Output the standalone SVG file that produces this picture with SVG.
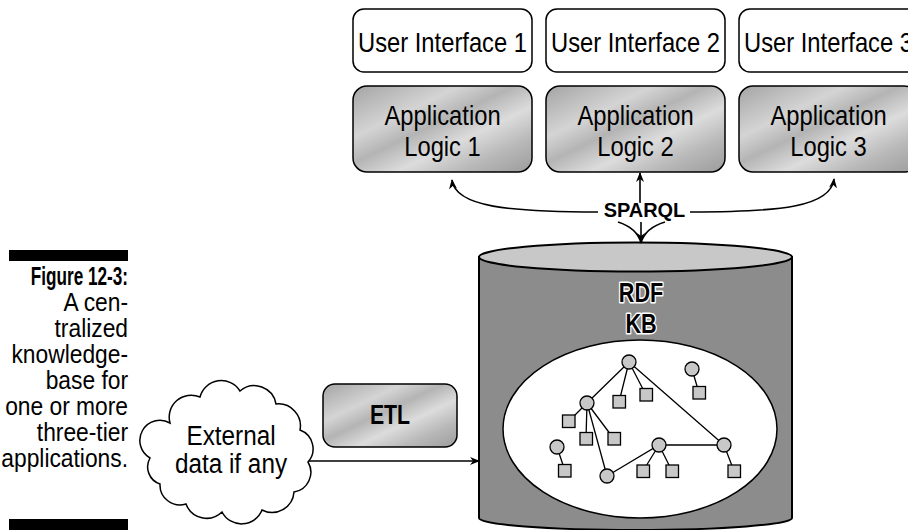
<svg xmlns="http://www.w3.org/2000/svg" width="908" height="530" viewBox="0 0 908 530">
<style>
text{font-family:"Liberation Sans",Arial,sans-serif;fill:#000}
.lbl{font-size:27px;text-anchor:middle}
.cap{font-size:26px;text-anchor:end}
.b{font-weight:bold}
.halo{paint-order:stroke;stroke:#fff;stroke-width:3px;stroke-linejoin:round}
.ui{fill:#fff;stroke:#000;stroke-width:1.5}
.al{fill:url(#metal);stroke:#000;stroke-width:1.5}
.ln{fill:none;stroke:#000;stroke-width:1.6}
.ge{stroke:#000;stroke-width:1.3;fill:none}
.gn{fill:#c8c8c8;stroke:#000;stroke-width:1.3}
</style>
<defs>
<linearGradient id="metal" x1="0" y1="0" x2="1" y2="1">
<stop offset="0" stop-color="#a4a4a4"/>
<stop offset="0.3" stop-color="#d4d4d4"/>
<stop offset="0.45" stop-color="#b4b4b4"/>
<stop offset="0.62" stop-color="#dcdcdc"/>
<stop offset="0.8" stop-color="#b8b8b8"/>
<stop offset="1" stop-color="#9c9c9c"/>
</linearGradient>
<marker id="ah" viewBox="0 0 10 8" refX="9" refY="4" markerWidth="10" markerHeight="8" markerUnits="userSpaceOnUse" orient="auto">
<path d="M0,0 L10,4 L0,8 L3,4 z" fill="#000"/>
</marker>
</defs>

<g id="caption">
<rect x="9" y="250" width="119" height="11" fill="#000"/>
<rect x="9" y="519" width="119" height="11" fill="#000"/>
<text class="cap b" transform="translate(128,285) scale(0.66,1)">Figure 12-3:</text>
<text class="cap" transform="translate(128,311) scale(0.877,1)">A cen-</text>
<text class="cap" transform="translate(128,337) scale(0.877,1)">tralized</text>
<text class="cap" transform="translate(128,363) scale(0.877,1)">knowledge-</text>
<text class="cap" transform="translate(128,389) scale(0.877,1)">base for</text>
<text class="cap" transform="translate(128,415) scale(0.877,1)">one or more</text>
<text class="cap" transform="translate(128,441) scale(0.877,1)">three-tier</text>
<text class="cap" transform="translate(128,467) scale(0.877,1)">applications.</text>
</g>

<g id="ui1"><rect class="ui" x="353" y="9" width="179" height="63" rx="11"/><text class="lbl" transform="translate(442.5,52) scale(0.88,1)">User Interface 1</text></g>
<g id="ui2"><rect class="ui" x="546" y="9" width="179" height="63" rx="11"/><text class="lbl" transform="translate(635.5,52) scale(0.88,1)">User Interface 2</text></g>
<g id="ui3"><rect class="ui" x="739" y="9" width="179" height="63" rx="11"/><text class="lbl" transform="translate(828.5,52) scale(0.88,1)">User Interface 3</text></g>

<g id="al1"><rect class="al" x="353" y="86" width="179" height="86" rx="14"/><text class="lbl" transform="translate(442.5,125) scale(0.88,1)">Application</text><text class="lbl" transform="translate(442.5,156) scale(0.88,1)">Logic 1</text></g>
<g id="al2"><rect class="al" x="546" y="86" width="179" height="86" rx="14"/><text class="lbl" transform="translate(635.5,125) scale(0.88,1)">Application</text><text class="lbl" transform="translate(635.5,156) scale(0.88,1)">Logic 2</text></g>
<g id="al3"><rect class="al" x="739" y="86" width="179" height="86" rx="14"/><text class="lbl" transform="translate(828.5,125) scale(0.88,1)">Application</text><text class="lbl" transform="translate(828.5,156) scale(0.88,1)">Logic 3</text></g>

<g id="kb">
<path d="M479,257 L479,518 A156.5,12 0 0 0 792,518 L792,257 Z" fill="#8c8c8c" stroke="#000" stroke-width="2"/>
<ellipse cx="635.5" cy="257" rx="156.5" ry="14.5" fill="#c8c8c8" stroke="#000" stroke-width="2"/>
<text class="lbl b halo" transform="translate(641,302) scale(0.8,1)">RDF</text>
<text class="lbl b halo" transform="translate(641,333) scale(0.8,1)">KB</text>
<ellipse cx="640" cy="429" rx="137" ry="89" fill="#fff" stroke="#000" stroke-width="1.5"/>
<g id="graph">
<path class="ge" d="M629,362 L587,403 M629,362 L619,402 M629,362 L646,395 M629,362 L724,445 M692,369 L699,393 M587,403 L569,421 M587,403 L586,439 M587,403 L614,439 M587,403 L607,476 M557,447 L565,471 M607,476 L659,445 L724,445 M659,445 L643,471 M659,445 L672,471 M724,445 L734,471"/>
<g class="gn">
<circle cx="629" cy="362" r="7"/>
<circle cx="692" cy="369" r="7"/>
<circle cx="587" cy="403" r="7"/>
<circle cx="557" cy="447" r="7"/>
<circle cx="607" cy="476" r="7"/>
<circle cx="659" cy="445" r="7"/>
<circle cx="724" cy="445" r="7"/>
<rect x="613" y="395.5" width="12.5" height="12.5"/>
<rect x="640" y="388.5" width="12.5" height="12.5"/>
<rect x="693" y="386.5" width="12.5" height="12.5"/>
<rect x="562.5" y="415" width="12.5" height="12.5"/>
<rect x="580" y="432.5" width="12.5" height="12.5"/>
<rect x="608" y="432.5" width="12.5" height="12.5"/>
<rect x="558.5" y="464.5" width="12.5" height="12.5"/>
<rect x="637" y="465" width="12.5" height="12.5"/>
<rect x="666" y="465" width="12.5" height="12.5"/>
<rect x="728" y="465" width="12.5" height="12.5"/>
</g>
</g>
</g>

<g id="etl"><rect class="al" x="323" y="384" width="134" height="63" rx="12"/><text class="lbl b" transform="translate(390,424) scale(0.76,1)" style="font-size:28px">ETL</text></g>

<g id="cloud">
<path d="M150,458 A20,20 0 0 1 170,423 A22,22 0 0 1 200,397 A22,22 0 0 1 240,391 A22,22 0 0 1 276,404 A22,22 0 0 1 300,430 A20,20 0 0 1 308,462 A20,20 0 0 1 294,492 A22,22 0 0 1 262,510 A22,22 0 0 1 222,512 A22,22 0 0 1 186,504 A20,20 0 0 1 160,484 A18,18 0 0 1 150,458 Z" fill="#fff" stroke="#000" stroke-width="1.5"/>
<text class="lbl" transform="translate(231,445) scale(0.9,1)">External</text>
<text class="lbl" transform="translate(231,473) scale(0.9,1)">data if any</text>
</g>

<g id="connectors">
<path class="ln" d="M598,212 C510,212 455,207 452,180" marker-end="url(#ah)"/>
<path class="ln" d="M690,212 C780,212 831,207 834,179" marker-end="url(#ah)"/>
<path class="ln" d="M640,203 L640,173" marker-end="url(#ah)"/>
<path class="ln" d="M618,222 Q637,228 641,243 M665,222 Q645,228 641,243"/>
<path class="ln" d="M641,222 L641,242" marker-end="url(#ah)"/>
<path class="ln" d="M309,461 L479,461" marker-end="url(#ah)"/>
<text class="lbl b halo" transform="translate(644.5,217) scale(0.95,1)" style="font-size:21px">SPARQL</text>
</g>
</svg>
